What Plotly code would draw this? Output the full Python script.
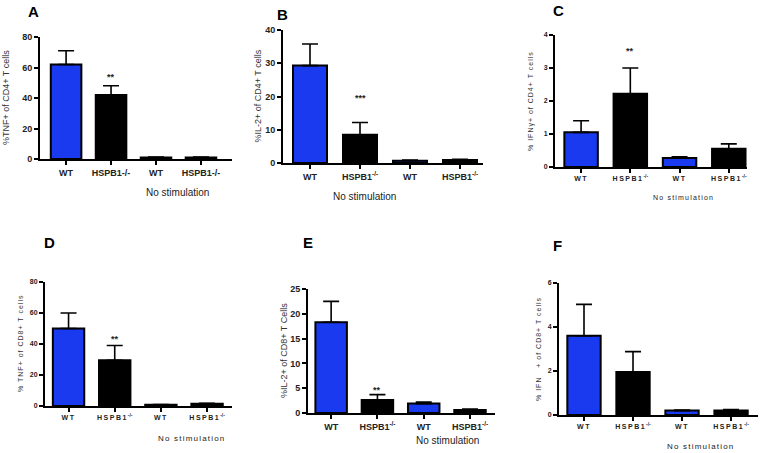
import plotly.graph_objects as go

W, H = 760, 453

categories = ["WT", "HSPB1-/-", "WT", "HSPB1-/-"]

# Panel values (mean) and upper error (SEM)
a_vals = [62, 42, 1.0, 1.0]
a_err = [9, 6, 0.2, 0.2]
b_vals = [29.3, 8.5, 0.7, 0.9]
b_err = [6.5, 3.7, 0.2, 0.2]
c_vals = [1.05, 2.22, 0.27, 0.55]
c_err = [0.35, 0.78, 0.04, 0.15]
d_vals = [50, 29.5, 0.8, 1.5]
d_err = [10, 9.5, 0.2, 0.3]
e_vals = [18.3, 2.6, 1.9, 0.6]
e_err = [4.2, 1.1, 0.3, 0.2]
f_vals = [3.6, 1.95, 0.2, 0.2]
f_err = [1.43, 0.93, 0.03, 0.05]

a_ticks = [0, 20, 40, 60, 80]
b_ticks = [0, 10, 20, 30, 40]
c_ticks = [0, 1, 2, 3, 4]
d_ticks = [0, 20, 40, 60, 80]
e_ticks = [0, 5, 10, 15, 20, 25]
f_ticks = [0, 2, 4, 6]


def spaced(s, px=1.2):
    return '<span style="letter-spacing:%.1fpx">%s</span>' % (px, s)


a_labels = ["WT", "HSPB1-/-", "WT", "HSPB1-/-"]
b_labels = ["WT", "HSPB1<sup>-/-</sup>", "WT", "HSPB1<sup>-/-</sup>"]
spaced_labels = [spaced("WT", 1.5), spaced("HSPB1", 1.5) + "<sup>-/-</sup>",
                 spaced("WT", 1.5), spaced("HSPB1", 1.5) + "<sup>-/-</sup>"]
c_labels = spaced_labels
d_labels = spaced_labels
e_labels = ["WT", "HSPB1<sup>-/-</sup>", "WT", "HSPB1<sup>-/-</sup>"]
f_labels = spaced_labels

a_title = "%TNF+ of CD4+ T cells"
b_title = "%IL-2+ of CD4+ T cells"
c_title = spaced("% IFNγ+ of CD4+ T cells", 1.0)
d_title = spaced("% TNF+ of CD8+ T cells", 1.0)
e_title = "%IL-2+ of CD8+ T Cells"
f_title = spaced("% IFN   + of CD8+ T cells", 1.0)

a_star, b_star, c_star, d_star, e_star = ("**", 54), ("***", 19.5), ("**", 3.5), ("**", 43), ("**", 4.6)

BLUE = "#1a3af0"
bar_colors = [BLUE, "black", BLUE, "black"]
FONT = "Liberation Sans"

panels = [
    dict(v=a_vals, e=a_err, t=a_ticks, lab=a_labels, title=a_title, letter="A", star=a_star,
         xpx=(40, 232), ypx=(159, 37), xr=[-0.58, 3.69], lp=(33, 11), ns=(177, 193), ts=9, ls=9,
         tx=6, tsz=9, nsz=10, nsp=False),
    dict(v=b_vals, e=b_err, t=b_ticks, lab=b_labels, title=b_title, letter="B", star=b_star,
         xpx=(283, 483), ypx=(163, 30), xr=[-0.54, 3.46], lp=(282, 15), ns=(364, 196), ts=9, ls=9,
         tx=258, tsz=9, nsz=10, nsp=False),
    dict(v=c_vals, e=c_err, t=c_ticks, lab=c_labels, title=c_title, letter="C", star=c_star,
         xpx=(555, 747), ypx=(167, 35), xr=[-0.53, 3.37], lp=(558, 10), ns=(683, 197), ts=7, ls=7,
         tx=531, tsz=7, nsz=7, nsp=True),
    dict(v=d_vals, e=d_err, t=d_ticks, lab=d_labels, title=d_title, letter="D", star=d_star,
         xpx=(45, 232), ypx=(406, 282), xr=[-0.51, 3.54], lp=(49, 243), ns=(192, 438), ts=7, ls=7,
         tx=20, tsz=7, nsz=8, nsp=True),
    dict(v=e_vals, e=e_err, t=e_ticks, lab=e_labels, title=e_title, letter="E", star=e_star,
         xpx=(308, 495), ypx=(413, 289), xr=[-0.5, 3.54], lp=(308, 243), ns=(447, 440), ts=9, ls=9,
         tx=284, tsz=9, nsz=10, nsp=False),
    dict(v=f_vals, e=f_err, t=f_ticks, lab=f_labels, title=f_title, letter="F", star=None,
         xpx=(559, 758), ypx=(415, 283), xr=[-0.51, 3.55], lp=(557, 245), ns=(701, 446), ts=7, ls=7,
         tx=538, tsz=7, nsz=8, nsp=True),
]

fig = go.Figure()
annotations = []
layout = {}

for i, p in enumerate(panels):
    n = "" if i == 0 else str(i + 1)
    xa, ya = "x" + n, "y" + n
    fig.add_trace(go.Bar(
        x=list(range(len(categories))), y=p["v"], xaxis=xa, yaxis=ya,
        marker=dict(color=bar_colors, line=dict(color="black", width=2)),
        width=0.68,
        error_y=dict(type="data", array=p["e"], arrayminus=[0] * 4, symmetric=False,
                     color="black", thickness=1.6, width=8),
        showlegend=False, hoverinfo="y",
    ))
    x0, x1 = p["xpx"]
    y0, y1 = p["ypx"]
    tf = dict(family=FONT, size=p["ts"], color="#222", weight="bold")
    lf = dict(family=FONT, size=p["ls"], color="#222", weight="bold")
    layout["xaxis" + n] = dict(
        domain=[x0 / W, x1 / W], anchor=ya, range=p["xr"], tickmode="array",
        tickvals=list(range(4)), ticktext=p["lab"], showline=True, linecolor="black",
        linewidth=2, ticks="outside", ticklen=4, tickwidth=1.5, tickcolor="black",
        showgrid=False, zeroline=False, tickfont=lf, fixedrange=True, automargin=False,
        tickangle=0,
    )
    layout["yaxis" + n] = dict(
        domain=[1 - y0 / H, 1 - y1 / H], anchor=xa, range=[0, p["t"][-1]],
        tickmode="array", tickvals=p["t"], showline=True, linecolor="black", linewidth=2,
        ticks="outside", ticklen=4, tickwidth=1.5, tickcolor="black", showgrid=False,
        zeroline=False, tickfont=tf, fixedrange=True, automargin=False,
    )
    annotations.append(dict(
        text=p["title"], x=p["tx"] / W, y=1 - ((y0 + y1) / 2) / H, xref="paper", yref="paper",
        textangle=-90, showarrow=False, xanchor="center", yanchor="middle",
        font=dict(family=FONT, size=p["tsz"], color="#333"),
    ))
    annotations.append(dict(
        text="<b>" + p["letter"] + "</b>", x=p["lp"][0] / W, y=1 - p["lp"][1] / H,
        xref="paper", yref="paper", showarrow=False, xanchor="center", yanchor="middle",
        font=dict(family=FONT, size=15, color="black"),
    ))
    ns_text = spaced("No stimulation", 1.2) if p["nsp"] else "No stimulation"
    annotations.append(dict(
        text=ns_text, x=p["ns"][0] / W, y=1 - p["ns"][1] / H, xref="paper", yref="paper",
        showarrow=False, xanchor="center", yanchor="middle",
        font=dict(family=FONT, size=p["nsz"], color="#222"),
    ))
    if p["star"]:
        annotations.append(dict(
            text="<b>" + p["star"][0] + "</b>", x=1, y=p["star"][1], xref=xa, yref=ya,
            showarrow=False, xanchor="center", yanchor="middle",
            font=dict(family=FONT, size=9, color="#222"),
        ))

fig.update_layout(
    width=W, height=H, margin=dict(l=0, r=0, t=0, b=0, autoexpand=False),
    paper_bgcolor="white", plot_bgcolor="white",
    annotations=annotations, bargap=0.3, **layout,
)

fig.write_html(
    "out.html",
    config={"displayModeBar": False},
    post_script="document.body.style.margin='0';document.body.style.overflow='hidden';",
)
